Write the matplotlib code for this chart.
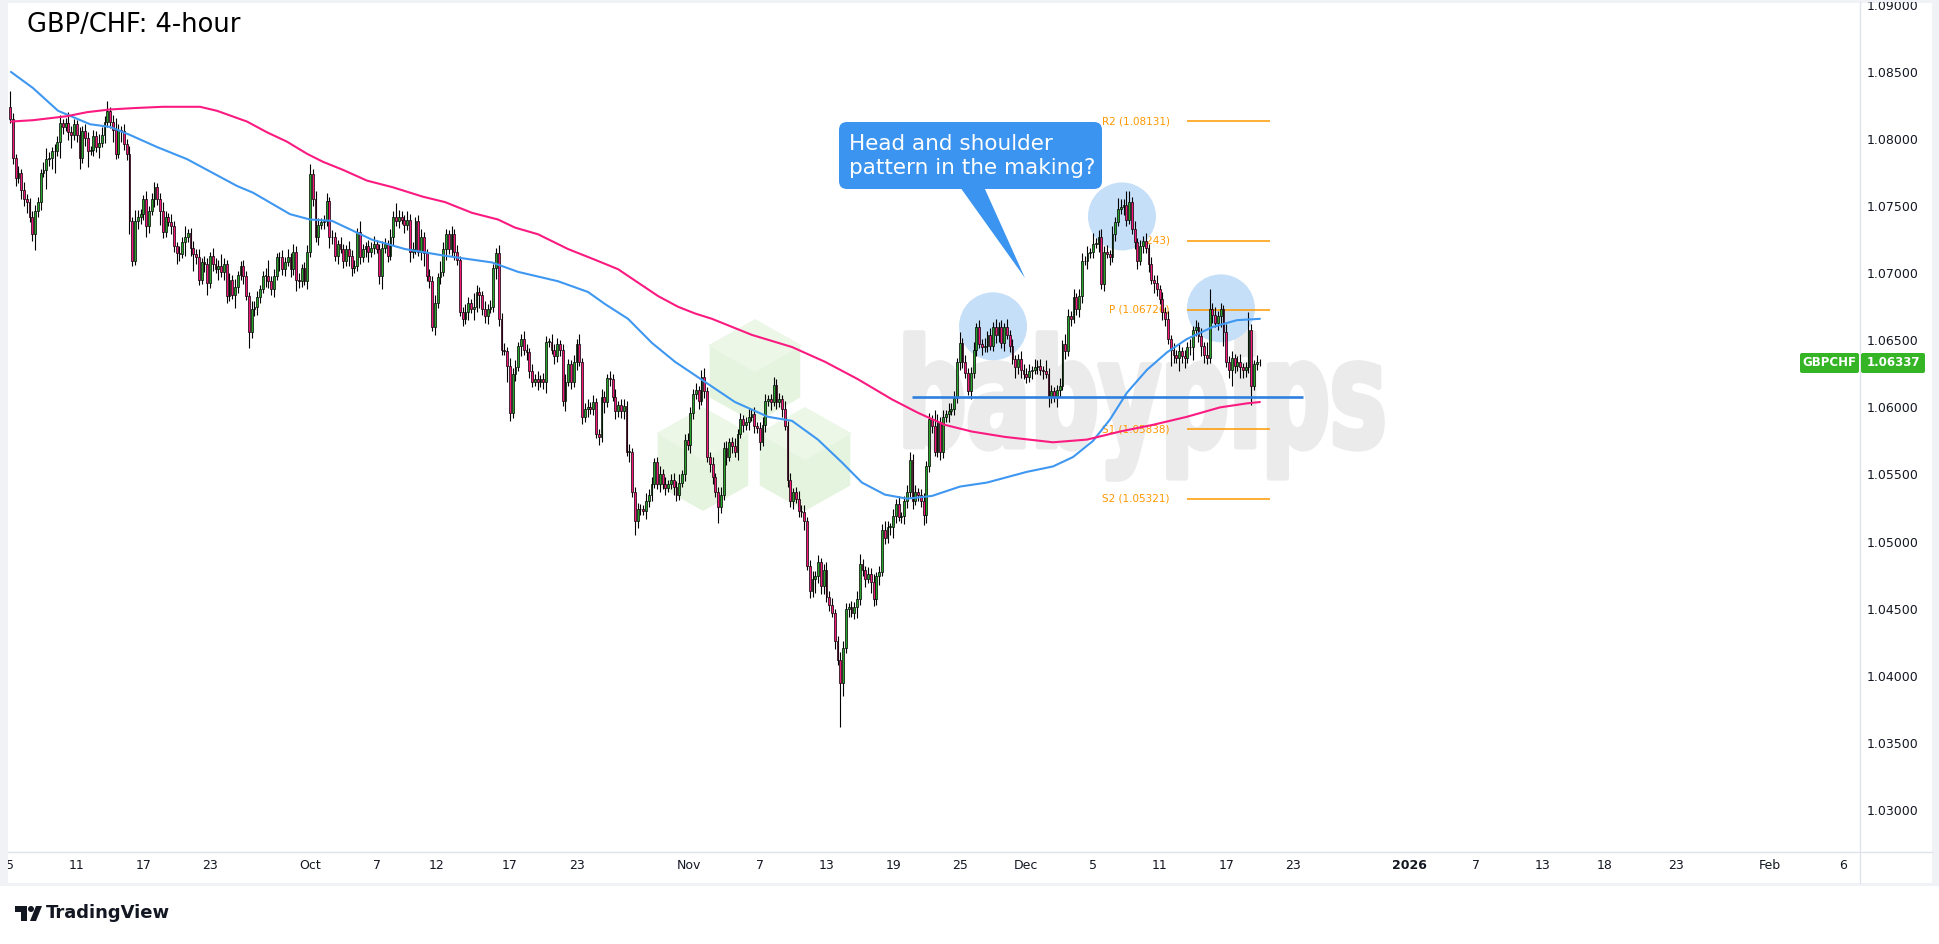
import numpy as np
import matplotlib
matplotlib.use("Agg")
import matplotlib.pyplot as plt
from matplotlib.patches import Rectangle, FancyBboxPatch, Polygon, Ellipse, PathPatch, Circle
from matplotlib.lines import Line2D
from matplotlib.textpath import TextPath
from matplotlib.font_manager import FontProperties
from matplotlib.transforms import Affine2D, Bbox, TransformedBbox

# ---------------- data ----------------
title = "GBP/CHF: 4-hour"
symbol = "GBPCHF"
last_price = 1.06337
callout_lines = ["Head and shoulder", "pattern in the making?"]

first_open = 1.0824
sep_close = [
    1.0815, 1.0786, 1.0771, 1.0775, 1.0762, 1.0755, 1.0753, 1.0742, 1.0729, 1.0746,
    1.0753, 1.0775, 1.0777, 1.0785, 1.0786, 1.0791, 1.0791, 1.0798, 1.0812, 1.0809,
    1.0812, 1.0805, 1.0803, 1.0811, 1.0803, 1.0786, 1.0806, 1.0801, 1.0791, 1.0792,
    1.0802, 1.0794, 1.0797, 1.0803, 1.0813, 1.0821, 1.0813, 1.0807, 1.0789, 1.0807,
    1.0806, 1.0796, 1.0789, 1.0739, 1.0709, 1.0739, 1.0742, 1.0744, 1.0755, 1.0735,
    1.0746, 1.0755, 1.0764, 1.0755, 1.0746, 1.0731, 1.0742, 1.0738, 1.0735, 1.0720,
    1.0715, 1.0714, 1.0723, 1.0727, 1.0730, 1.0719, 1.0714, 1.0712, 1.0695, 1.0708,
    1.0707, 1.0693, 1.0713, 1.0707, 1.0703, 1.0705, 1.0701, 1.0707, 1.0683, 1.0695,
    1.0684, 1.0690, 1.0699, 1.0705, 1.0698, 1.0683, 1.0656, 1.0673, 1.0675, 1.0682,
    1.0688, 1.0698, 1.0698, 1.0694, 1.0688, 1.0698, 1.0712, 1.0712, 1.0703, 1.0708,
    1.0712, 1.0703, 1.0716, 1.0695, 1.0694, 1.0704, 1.0694, 1.0716, 1.0774]
oct_close = [
    1.0755, 1.0727, 1.0736, 1.0738, 1.0739, 1.0754, 1.0727, 1.0727, 1.0713, 1.0722,
    1.0718, 1.0709, 1.0718, 1.0713, 1.0704, 1.0705, 1.0731, 1.0712, 1.0718, 1.0720,
    1.0716, 1.0719, 1.0722, 1.0718, 1.0698, 1.0719, 1.0722, 1.0713, 1.0727, 1.0742,
    1.0739, 1.0742, 1.0740, 1.0736, 1.0740, 1.0716, 1.0718, 1.0739, 1.0716, 1.0727,
    1.0715, 1.0698, 1.0694, 1.0660, 1.0678, 1.0697, 1.0701, 1.0718, 1.0729, 1.0718,
    1.0729, 1.0716, 1.0710, 1.0671, 1.0666, 1.0671, 1.0678, 1.0673, 1.0675, 1.0686,
    1.0684, 1.0673, 1.0668, 1.0673, 1.0675, 1.0704, 1.0715, 1.0666, 1.0643, 1.0642,
    1.0631, 1.0596, 1.0625, 1.0630, 1.0646, 1.0651, 1.0643, 1.0641, 1.0627, 1.0619,
    1.0621, 1.0619, 1.0621, 1.0619, 1.0649, 1.0649, 1.0643, 1.0638, 1.0647, 1.0643,
    1.0605, 1.0619, 1.0632, 1.0619, 1.0634, 1.0647, 1.0634, 1.0593, 1.0599, 1.0600,
    1.0599, 1.0604, 1.0580, 1.0578, 1.0608, 1.0604, 1.0622, 1.0621, 1.0608, 1.0597,
    1.0602, 1.0597, 1.0601, 1.0567, 1.0567, 1.0537, 1.0515, 1.0524, 1.0524, 1.0523,
    1.0530, 1.0535, 1.0543, 1.0559, 1.0543, 1.0550, 1.0543, 1.0540, 1.0543, 1.0546,
    1.0541, 1.0535, 1.0544, 1.0550, 1.0576, 1.0572, 1.0596]
nov_close = [
    1.0610, 1.0613, 1.0605, 1.0623, 1.0612, 1.0563, 1.0558, 1.0548, 1.0537, 1.0526,
    1.0535, 1.0570, 1.0563, 1.0574, 1.0571, 1.0567, 1.0580, 1.0591, 1.0587, 1.0589,
    1.0593, 1.0595, 1.0586, 1.0585, 1.0574, 1.0587, 1.0605, 1.0606, 1.0604, 1.0617,
    1.0604, 1.0606, 1.0599, 1.0586, 1.0546, 1.0530, 1.0537, 1.0532, 1.0523, 1.0522,
    1.0515, 1.0482, 1.0463, 1.0472, 1.0474, 1.0485, 1.0467, 1.0479, 1.0459, 1.0453,
    1.0447, 1.0426, 1.0412, 1.0395, 1.0421, 1.0450, 1.0451, 1.0447, 1.0451, 1.0457,
    1.0483, 1.0479, 1.0472, 1.0476, 1.0470, 1.0457, 1.0474, 1.0477, 1.0509, 1.0503,
    1.0511, 1.0511, 1.0519, 1.0528, 1.0518, 1.0519, 1.0530, 1.0537, 1.0561, 1.0530,
    1.0537, 1.0535, 1.0530, 1.0520, 1.0556, 1.0591, 1.0586, 1.0567, 1.0589, 1.0567,
    1.0593, 1.0595, 1.0597, 1.0599, 1.0607, 1.0634, 1.0648, 1.0634, 1.0626, 1.0612,
    1.0626, 1.0643, 1.0660, 1.0647, 1.0645, 1.0646, 1.0654, 1.0646, 1.0660, 1.0654,
    1.0660, 1.0648, 1.0660, 1.0654, 1.0646, 1.0636, 1.0630, 1.0636, 1.0628, 1.0625]
dec_close = [
    1.0623, 1.0627, 1.0628, 1.0630, 1.0631, 1.0628, 1.0627, 1.0625, 1.0608, 1.0612,
    1.0608, 1.0613, 1.0616, 1.0647, 1.0642, 1.0668, 1.0666, 1.0682, 1.0673, 1.0683,
    1.0709, 1.0709, 1.0715, 1.0716, 1.0722, 1.0722, 1.0727, 1.0692, 1.0716, 1.0714,
    1.0712, 1.0729, 1.0738, 1.0748, 1.0749, 1.0751, 1.0740, 1.0753, 1.0733, 1.0723,
    1.0709, 1.0720, 1.0724, 1.0719, 1.0707, 1.0695, 1.0693, 1.0688, 1.0681, 1.0671,
    1.0666, 1.0651, 1.0643, 1.0639, 1.0637, 1.0642, 1.0638, 1.0637, 1.0645, 1.0645,
    1.0658, 1.0660, 1.0653, 1.0646, 1.0639, 1.0637, 1.0673, 1.0669, 1.0663, 1.0668,
    1.0673, 1.0656, 1.0634, 1.0628, 1.0637, 1.0631, 1.0634, 1.0630, 1.0628, 1.0630,
    1.0658, 1.0616, 1.0632, 1.0634, 1.06337]

# wick lengths in pips above / below the candle body
sep_wick_up = [
    12, 4, 3, 5, 3, 6, 4, 3, 4, 5,  4, 3, 6, 8, 4, 3, 5, 4, 6, 3,
    4, 8, 5, 4, 3, 6, 4, 5, 4, 3,  5, 4, 7, 6, 4, 7, 3, 5, 9, 4,
    3, 5, 4, 6, 3, 8, 5, 4, 3, 6,  4, 5, 4, 3, 5, 7, 4, 3, 6, 4,
    3, 5, 4, 8, 3, 4, 5, 4, 6, 3,  5, 4, 3, 6, 4, 5, 9, 4, 3, 5,
    4, 6, 3, 4, 5, 4, 3, 6, 4, 5,  3, 4, 6, 12, 4, 5, 3, 4, 5, 4,
    6, 3, 6, 4, 5, 3, 4, 5, 7]
sep_wick_dn = [
    3, 5, 6, 4, 7, 5, 8, 4, 5, 12,  4, 6, 3, 14, 5, 8, 16, 4, 12, 5,
    3, 6, 10, 4, 5, 8, 4, 6, 12, 3,  5, 4, 8, 3, 6, 4, 5, 9, 4, 3,
    8, 4, 5, 10, 4, 3, 6, 5, 4, 8,  5, 3, 6, 4, 10, 5, 4, 3, 6, 4,
    8, 5, 3, 10, 4, 6, 12, 5, 4, 3,  6, 9, 4, 5, 3, 8, 4, 6, 5, 4,
    3, 10, 5, 4, 6, 3, 12, 4, 5, 6,  4, 3, 8, 5, 4, 6, 3, 10, 4, 5,
    3, 6, 4, 8, 5, 4, 3, 6, 4]
oct_wick_up = [
    4, 6, 5, 3, 4, 6, 3, 5, 4, 3,  5, 4, 3, 6, 4, 5, 3, 8, 4, 3,
    5, 4, 6, 3, 4, 5, 4, 3, 6, 4,  10, 5, 4, 3, 6, 4, 5, 3, 4, 6,
    4, 3, 5, 4, 6, 3, 8, 5, 4, 3,  6, 4, 5, 3, 4, 6, 4, 3, 10, 5,
    4, 3, 6, 4, 5, 3, 4, 6, 4, 5,  3, 6, 4, 5, 3, 4, 6, 4, 3, 5,
    4, 6, 3, 5, 4, 3, 6, 4, 5, 3,  4, 6, 4, 3, 5, 4, 8, 3, 4, 6,
    4, 5, 3, 4, 6, 4, 3, 5, 4, 6,  3, 4, 5, 4, 6, 3, 4, 5, 4, 3,
    6, 4, 5, 3, 4, 6, 4, 5, 3, 4,  5, 4, 6, 3, 4, 5, 4]
oct_wick_dn = [
    5, 4, 6, 3, 5, 4, 8, 5, 4, 6,  3, 5, 4, 8, 6, 4, 3, 5, 4, 6,
    8, 4, 5, 3, 6, 10, 4, 5, 3, 6,  4, 5, 3, 6, 4, 8, 5, 4, 3, 6,
    10, 4, 5, 3, 6, 4, 5, 3, 8, 4,  5, 6, 4, 3, 5, 4, 6, 3, 8, 4,
    10, 4, 5, 6, 3, 4, 8, 5, 4, 3,  12, 6, 4, 5, 3, 8, 4, 6, 5, 4,
    3, 6, 4, 5, 8, 4, 3, 6, 4, 5,  4, 8, 3, 5, 4, 6, 3, 5, 4, 6,
    4, 5, 3, 6, 4, 8, 4, 5, 3, 6,  4, 5, 6, 3, 8, 4, 10, 5, 4, 3,
    6, 4, 5, 3, 4, 6, 4, 5, 3, 4,  6, 5, 4, 3, 5, 4, 6]
nov_wick_up = [
    4, 5, 3, 5, 6, 3, 4, 5, 3, 4,  6, 4, 5, 3, 4, 6, 4, 5, 3, 4,
    6, 4, 5, 3, 4, 6, 5, 3, 4, 6,  4, 5, 3, 6, 4, 5, 3, 4, 6, 4,
    5, 3, 4, 6, 4, 5, 3, 4, 6, 4,  5, 3, 4, 6, 5, 4, 3, 5, 4, 6,
    8, 4, 3, 5, 4, 6, 3, 5, 4, 6,  4, 3, 5, 4, 6, 3, 4, 5, 6, 4,
    5, 3, 4, 6, 4, 5, 3, 12, 6, 4,  5, 3, 6, 4, 5, 3, 8, 4, 5, 3,
    4, 6, 3, 5, 4, 6, 3, 5, 4, 6,  4, 5, 3, 6, 4, 5, 3, 4, 6, 4]
nov_wick_dn = [
    5, 4, 6, 3, 5, 4, 6, 5, 4, 12,  5, 4, 6, 3, 5, 4, 6, 3, 5, 4,
    6, 3, 5, 4, 6, 3, 5, 4, 6, 3,  5, 4, 6, 3, 5, 4, 6, 3, 5, 4,
    6, 3, 5, 4, 10, 5, 6, 6, 4, 5,  3, 6, 4, 33, 10, 4, 6, 3, 5, 8,
    4, 5, 6, 3, 8, 5, 4, 6, 3, 5,  4, 6, 8, 5, 3, 4, 6, 5, 4, 6,
    3, 5, 4, 8, 6, 4, 5, 3, 4, 6,  5, 4, 6, 3, 5, 4, 6, 5, 4, 3,
    6, 4, 5, 3, 6, 4, 5, 3, 4, 6,  5, 4, 6, 3, 5, 4, 8, 5, 6, 4]
dec_wick_up = [
    4, 5, 3, 6, 4, 5, 3, 8, 4, 5,  3, 4, 6, 3, 8, 5, 4, 6, 3, 5,
    6, 4, 5, 3, 8, 4, 5, 6, 4, 5,  3, 6, 4, 8, 6, 4, 10, 8, 4, 6,
    3, 5, 4, 6, 3, 5, 4, 6, 3, 5,  4, 6, 3, 5, 4, 6, 3, 5, 4, 6,
    3, 5, 4, 6, 3, 10, 15, 5, 6, 4,  5, 3, 6, 4, 5, 3, 4, 6, 3, 4,
    13, 4, 3, 5, 2]
dec_wick_dn = [
    5, 4, 6, 3, 5, 4, 6, 3, 8, 5,  4, 8, 5, 3, 6, 4, 5, 3, 4, 6,
    5, 3, 6, 4, 5, 3, 6, 4, 5, 3,  6, 4, 5, 3, 4, 6, 5, 3, 4, 5,
    6, 3, 5, 4, 6, 3, 8, 5, 4, 6,  5, 4, 12, 6, 4, 10, 5, 8, 4, 6,
    10, 5, 4, 8, 6, 5, 4, 6, 3, 5,  8, 10, 4, 6, 12, 5, 4, 8, 6, 5,
    4, 14, 3, 4, 3]

# moving averages (x in trading days since 5 Sep, value)
blue_ma_day = [0.05, 1.37, 2.88, 4.80, 6.00, 7.20, 8.82, 10.62, 11.82, 13.62, 14.58, 16.80,
               18.00, 19.32, 21.72, 23.70, 26.10, 28.93, 30.49, 32.89, 34.69, 35.71, 37.09,
               38.53, 39.91, 41.71, 43.51, 45.49, 46.93, 48.49, 49.93, 51.13, 52.51, 53.83,
               55.33, 57.02, 58.64, 61.04, 62.60, 63.80, 65.00, 66.02, 67.04, 68.24, 69.44,
               70.64, 72.20, 73.64, 75.02]
blue_ma = [1.0850, 1.0838, 1.0821, 1.0811, 1.0809, 1.0803, 1.0794, 1.0785, 1.0777, 1.0765,
           1.0760, 1.0744, 1.0740, 1.0739, 1.0725, 1.0718, 1.0713, 1.0708, 1.0701, 1.0694,
           1.0686, 1.0677, 1.0666, 1.0648, 1.0634, 1.0619, 1.0604, 1.0593, 1.0590, 1.0576,
           1.0559, 1.0544, 1.0535, 1.0532, 1.0534, 1.0541, 1.0544, 1.0552, 1.0556, 1.0563,
           1.0575, 1.0591, 1.0611, 1.0628, 1.0641, 1.0651, 1.0660, 1.0665, 1.0666]
pink_ma_day = [0.05, 1.37, 3.42, 4.62, 6.00, 7.38, 9.18, 11.40, 12.42, 14.22, 15.42, 16.62,
               17.82, 18.78, 19.98, 21.42, 22.98, 24.78, 26.10, 27.72, 29.29, 30.30, 31.69,
               33.49, 35.11, 36.49, 37.69, 38.89, 40.09, 41.11, 42.13, 44.53, 46.93, 48.91,
               50.89, 52.93, 54.49, 56.11, 57.73, 59.72, 62.60, 64.64, 66.62, 68.60, 70.64,
               72.62, 74.24, 75.02]
pink_ma = [1.0813, 1.0814, 1.0817, 1.0820, 1.0822, 1.0823, 1.0824, 1.0824, 1.0821, 1.0813,
           1.0805, 1.0798, 1.0789, 1.0783, 1.0777, 1.0769, 1.0764, 1.0757, 1.0753, 1.0745,
           1.0740, 1.0734, 1.0729, 1.0718, 1.0710, 1.0703, 1.0693, 1.0683, 1.0675, 1.0670,
           1.0666, 1.0654, 1.0645, 1.0634, 1.0621, 1.0606, 1.0596, 1.0587, 1.0582, 1.0578,
           1.0574, 1.0576, 1.0582, 1.0587, 1.0593, 1.0600, 1.0603, 1.0604]

pivot_names = ["R2", "R1", "P", "S1", "S2"]
pivot_levels = [1.08131, 1.07243, 1.06726, 1.05838, 1.05321]
neckline = 1.0608
shoulder_days = [59.0, 66.74, 72.68]
shoulder_prices = [1.06604, 1.07423, 1.06738]

tick_days = [0, 4, 8, 12, 18, 22, 25.6, 30, 34, 40.75, 45, 49, 53, 57, 61, 65, 69, 73, 77,
             84, 88, 92, 95.7, 100, 105.6, 110]
tick_labels = ["5", "11", "17", "23", "Oct", "7", "12", "17", "23", "Nov", "7", "13", "19",
               "25", "Dec", "5", "11", "17", "23", "2026", "7", "13", "18", "23", "Feb", "6"]
price_ticks = [1.030, 1.035, 1.040, 1.045, 1.050, 1.055, 1.060, 1.065, 1.070, 1.075,
               1.080, 1.085, 1.090]

# ---------------- style ----------------
GREEN = "#27a327"
PINK = "#f5177a"
BLUE_MA = "#3e97f1"
PINK_MA = "#fb1a80"
ORANGE = "#ff9800"
NECK = "#2d80e0"
TXT = "#131722"
GRID = "#e0e3eb"

W, H = 1940, 944
fig = plt.figure(figsize=(W / 100, H / 100), dpi=100)
fig.patch.set_facecolor("white")
PX = Affine2D().scale(1 / 100.0) + fig.dpi_scale_trans   # pixel coords, origin bottom-left


def Y(y):  # top-origin pixel -> bottom-origin pixel
    return H - y


# frame
fig.add_artist(Rectangle((0, Y(886)), W, 886, transform=PX, facecolor="#f0f2f5",
                         edgecolor="none", zorder=-10))
fig.add_artist(Rectangle((8, Y(883)), 1932 - 8, 880, transform=PX, facecolor="white",
                         edgecolor="none", zorder=-9))

ax = fig.add_axes([8 / W, (H - 852) / H, (1860 - 8) / W, (852 - 3) / H])
ax.set_facecolor("white")
for s in ax.spines.values():
    s.set_visible(False)
ax.set_xlim(-0.126, 111.04)
ax.set_ylim(1.02687, 1.090134)

# separators
fig.add_artist(Line2D([1860, 1860], [Y(883), Y(2)], transform=PX, color=GRID, lw=1.0, zorder=5))
fig.add_artist(Line2D([8, 1932], [Y(852), Y(852)], transform=PX, color=GRID, lw=1.0, zorder=5))

# ---------------- watermark ----------------
wm_col = "#ebebeb"
tp = TextPath((0, 0), "babypips", size=100,
              prop=FontProperties(family="DejaVu Sans", weight="bold"))
bb = tp.get_extents()
x0, x1, yt, yb = 906, 1382, 333, 479
tr = Affine2D().translate(-bb.x0, -bb.y0).scale((x1 - x0) / bb.width, (yb - yt) / bb.height) \
    .translate(x0, Y(yb)) + PX
ax.add_patch(PathPatch(tp, transform=tr, facecolor=wm_col, edgecolor=wm_col, lw=4,
                       joinstyle="round", zorder=0.5))


def hexagon(cx, cy, rx=47, ry=53):
    return [(cx, Y(cy - ry)), (cx + rx, Y(cy - ry / 2)), (cx + rx, Y(cy + ry / 2)),
            (cx, Y(cy + ry)), (cx - rx, Y(cy + ry / 2)), (cx - rx, Y(cy - ry / 2))]


for (cx, cy) in [(703, 460), (805, 460), (755, 372)]:
    ax.add_patch(Polygon(hexagon(cx, cy), closed=True, transform=PX, facecolor="#e5f4df",
                         edgecolor="white", lw=2.5, zorder=0.6))
    ax.add_patch(Polygon([(cx, Y(cy - 53)), (cx + 47, Y(cy - 26.5)), (cx, Y(cy)),
                          (cx - 47, Y(cy - 26.5))], closed=True, transform=PX,
                         facecolor="#ecf7e8", edgecolor="none", zorder=0.61))

# ---------------- shoulder circles ----------------
for d, p in zip(shoulder_days, shoulder_prices):
    ax.add_patch(Ellipse((d, p), 68 / 16.66, 68 / 13420, facecolor="#c5dff8",
                         edgecolor="none", zorder=1.5))

# ---------------- pivots ----------------
for name, lvl in zip(pivot_names, pivot_levels):
    ax.hlines(lvl, 70.64, 75.62, color=ORANGE, lw=1.1, zorder=2)
    ax.text(69.62, lvl, f"{name} ({lvl:.5f})", ha="right", va="center", fontsize=7.5,
            color=ORANGE, zorder=1.2)

# ---------------- candles ----------------
close = np.array(sep_close + oct_close + nov_close + dec_close)
wu = np.array(sep_wick_up + oct_wick_up + nov_wick_up + dec_wick_up) * 1e-4
wd = np.array(sep_wick_dn + oct_wick_dn + nov_wick_dn + dec_wick_dn) * 1e-4
n = min(len(close), len(wu), len(wd))
close, wu, wd = close[:n], wu[:n], wd[:n]
opn = np.concatenate([[first_open], close[:-1]])
hi = np.maximum(opn, close) + wu
lo = np.minimum(opn, close) - wd
xb = np.arange(n) / 6.0
cols = np.where(close >= opn, GREEN, PINK)
ax.vlines(xb, lo, hi, color="black", lw=0.8, zorder=3)
ax.bar(xb, np.maximum(np.abs(close - opn), 0.00003), bottom=np.minimum(opn, close),
       width=0.11, color=cols, edgecolor="black", linewidth=0.5, zorder=3.5)

# moving averages
ax.plot(blue_ma_day, blue_ma, color=BLUE_MA, lw=1.5, zorder=4, solid_capstyle="round",
        solid_joinstyle="round")
ax.plot(pink_ma_day, pink_ma, color=PINK_MA, lw=1.5, zorder=4, solid_capstyle="round",
        solid_joinstyle="round")

# neckline
ax.hlines(neckline, 54.14, 77.6, color=NECK, lw=1.9, zorder=5)

# ---------------- axes ticks ----------------
ax.yaxis.tick_right()
ax.set_yticks(price_ticks)
ax.set_yticklabels([f"{v:.5f}" for v in price_ticks])
ax.tick_params(axis="y", length=0, pad=4.5, labelsize=9, labelcolor=TXT)
ax.set_xticks(tick_days)
ax.set_xticklabels(tick_labels)
ax.tick_params(axis="x", length=0, pad=5, labelsize=9, labelcolor=TXT)
for lbl in ax.get_xticklabels():
    if lbl.get_text() == "2026":
        lbl.set_fontweight("bold")
clipbb = TransformedBbox(Bbox([[8, 0], [W, H - 2]]), PX)
for lbl in ax.get_xticklabels() + ax.get_yticklabels():
    lbl.set_clip_box(clipbb)
    lbl.set_clip_on(True)

# ---------------- title ----------------
fig.text(27 / W, Y(25) / H, title, fontsize=18.5, color="black", va="center", ha="left")

# ---------------- callout ----------------
fig.add_artist(FancyBboxPatch((839, Y(189)), 263, 67, boxstyle="round,pad=0,rounding_size=8",
                              transform=PX, facecolor="#3b94ef", edgecolor="none", zorder=10))
fig.add_artist(Polygon([(960, Y(187)), (984, Y(187)), (1025, Y(278))], closed=True,
                       transform=PX, facecolor="#3b94ef", edgecolor="none", zorder=10))
fig.text(849 / W, Y(150) / H, callout_lines[0], color="white", fontsize=15.5,
         va="baseline", ha="left", zorder=11)
fig.text(849 / W, Y(174) / H, callout_lines[1], color="white", fontsize=15.5,
         va="baseline", ha="left", zorder=11)

# ---------------- price label ----------------
LBL = "#35b526"
fig.add_artist(FancyBboxPatch((1800, Y(373)), 59, 20, boxstyle="round,pad=0,rounding_size=2",
                              transform=PX, facecolor=LBL, edgecolor="none", zorder=10))
fig.add_artist(FancyBboxPatch((1861, Y(373)), 64, 20, boxstyle="round,pad=0,rounding_size=2",
                              transform=PX, facecolor=LBL, edgecolor="none", zorder=10))
fig.text(1829.5 / W, Y(363) / H, symbol, color="white", fontsize=8.5, fontweight="bold",
         ha="center", va="center", zorder=11)
fig.text(1893 / W, Y(363) / H, f"{last_price:.5f}", color="white", fontsize=8.5,
         fontweight="bold", ha="center", va="center", zorder=11)

# ---------------- TradingView logo ----------------
fig.add_artist(Rectangle((15, Y(912)), 12, 6, transform=PX, facecolor=TXT, edgecolor="none"))
fig.add_artist(Rectangle((21, Y(921)), 6, 15, transform=PX, facecolor=TXT, edgecolor="none"))
fig.add_artist(Circle((31, Y(909)), 3, transform=PX, facecolor=TXT, edgecolor="none"))
fig.add_artist(Polygon([(36, Y(906)), (42, Y(906)), (36, Y(921)), (30, Y(921))], closed=True,
                       transform=PX, facecolor=TXT, edgecolor="none"))
fig.text(46 / W, Y(913) / H, "TradingView", fontsize=13, fontweight="bold", color=TXT,
         va="center", ha="left")

fig.savefig("out.png", dpi=100, facecolor="white")
